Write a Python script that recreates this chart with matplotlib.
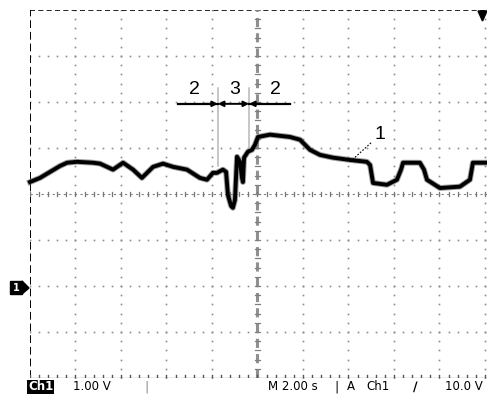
import numpy as np
import matplotlib.pyplot as plt
from matplotlib.patches import Rectangle, Polygon

# Ch1 trace: time (s) and voltage (V, ground = 0)
t = [0.00, 0.44, 0.88, 1.32, 1.63, 2.07, 2.77, 3.08, 3.65, 4.09, 4.53, 4.92,
     5.41, 5.85, 6.29, 6.90, 7.47, 7.78, 8.04, 8.22, 8.48, 8.62, 8.70, 8.84,
     8.92, 9.01, 9.10, 9.23, 9.32, 9.36, 9.41, 9.58, 9.76, 9.89, 10.02, 10.55,
     11.43, 11.87, 12.31, 12.75, 13.32, 14.07, 14.81, 14.95, 15.08, 15.69,
     16.13, 16.31, 16.40, 17.14, 17.32, 17.45, 18.02, 18.90, 19.34, 19.47, 20.09]
v = [2.26, 2.35, 2.48, 2.61, 2.68, 2.70, 2.68, 2.66, 2.53, 2.68, 2.53, 2.35,
     2.59, 2.66, 2.59, 2.53, 2.35, 2.31, 2.46, 2.46, 2.53, 2.48, 1.98, 1.74,
     1.70, 1.87, 2.81, 2.70, 2.35, 2.26, 2.79, 2.92, 2.96, 3.07, 3.24, 3.29,
     3.24, 3.18, 2.96, 2.85, 2.79, 2.74, 2.70, 2.63, 2.24, 2.20, 2.31, 2.53,
     2.68, 2.68, 2.53, 2.31, 2.13, 2.16, 2.31, 2.68, 2.68]

# interval markers: boundaries (s), labels and label centres
bounds = [8.26, 9.63]
seg_labels = ['2', '3', '2']
seg_label_t = [7.25, 9.01, 10.77]
arrow_v = 3.96

fig = plt.figure(figsize=(4.87, 3.96), dpi=100)
ax = fig.add_axes([30 / 487, 1 - 378 / 396, 457 / 487, 368 / 396])
ax.set_xlim(0, 20.09)
ax.set_ylim(-2, 6)
ax.axis('off')

# dotted graticule
for gx in np.arange(2, 20.01, 2):
    if gx == 10:
        continue
    ys = np.arange(-2, 6.01, 0.2)
    ax.plot(np.full_like(ys, gx), ys, ls='none', marker='s', ms=1.2,
            color='#8a8a8a', mew=0)
for gy in np.arange(-1, 5.01, 1):
    if gy == 2:
        continue
    xs = np.arange(0, 20.01, 0.4)
    ax.plot(xs, np.full_like(xs, gy), ls='none', marker='s', ms=1.2,
            color='#8a8a8a', mew=0)

# borders and centre lines with minor ticks
ax.plot([0, 20.09], [6, 6], color='black', lw=1.2, ls=(0, (3, 2)))
ax.plot([0, 0], [-2, 6], color='black', lw=1.4, ls=(0, (4, 2)))
ax.plot([0, 20.09], [-2, -2], color='#a0a0a0', lw=1.0)
ax.plot([10, 10], [-2, 6], color='#909090', lw=2.2, ls=(0, (3, 2)))
ax.plot([0, 20.09], [2, 2], color='#808080', lw=0.8, ls=(0, (2, 3)))
for tx in np.arange(0, 20.01, 0.4):
    ax.plot([tx, tx], [-2, -1.93], color='#555555', lw=1.0)
    ax.plot([tx, tx], [1.95, 2.05], color='#777777', lw=0.9)
for ty in np.arange(-2, 6.01, 0.2):
    ax.plot([9.87, 10.13], [ty, ty], color='#808080', lw=0.9)

# trace, with a soft halo for the noise band
ax.plot(t, v, color='#606060', lw=4.2, alpha=0.6, clip_on=False,
        solid_joinstyle='round')
ax.plot(t, v, color='black', lw=2.8, clip_on=False, solid_joinstyle='round')

# interval annotation
for b in bounds:
    ax.plot([b, b], [4.30, 2.6 if b < 9 else 3.0], color='#b8b8b8', lw=1.1)
ax.plot([6.51, bounds[0]], [arrow_v, arrow_v], color='black', lw=1.6)
ax.plot([bounds[1], 11.43], [arrow_v, arrow_v], color='black', lw=1.6)
ax.annotate('', xy=(bounds[0], arrow_v), xytext=(bounds[0] - 0.6, arrow_v),
            arrowprops=dict(arrowstyle='-|>', color='black', lw=1.4,
                            mutation_scale=8, shrinkA=0, shrinkB=0))
ax.annotate('', xy=(bounds[0], arrow_v), xytext=(bounds[1], arrow_v),
            arrowprops=dict(arrowstyle='<|-|>', color='black', lw=1.4,
                            mutation_scale=8, shrinkA=0, shrinkB=0))
ax.annotate('', xy=(bounds[1], arrow_v), xytext=(bounds[1] + 0.6, arrow_v),
            arrowprops=dict(arrowstyle='-|>', color='black', lw=1.4,
                            mutation_scale=8, shrinkA=0, shrinkB=0))
for lab, lt in zip(seg_labels, seg_label_t):
    ax.text(lt, 4.27, lab, ha='center', va='center', fontsize=14,
            family='Liberation Sans')

# trace label with dotted leader
ax.plot([14.07, 15.03], [2.70, 3.13], color='black', lw=0.8, ls=(0, (1.5, 1.5)))
ax.text(15.15, 3.30, '1', ha='left', va='center', fontsize=14,
        family='Liberation Sans')

# ground marker on the left
fig.patches.append(Rectangle((10 / 487, 1 - 294 / 396), 12 / 487, 13 / 396,
                             transform=fig.transFigure, color='black'))
fig.patches.append(Polygon([(22 / 487, 1 - 281 / 396), (29 / 487, 1 - 288 / 396),
                            (22 / 487, 1 - 294 / 396)], closed=True,
                           transform=fig.transFigure, color='black'))
fig.text(16 / 487, 1 - 288 / 396, '1', color='white', ha='center',
         va='center', fontsize=7, fontweight='bold')

# trigger position marker at the top right
fig.patches.append(Polygon([(478 / 487, 1 - 11 / 396), (487 / 487, 1 - 11 / 396),
                            (482.5 / 487, 1 - 21 / 396)], closed=True,
                           transform=fig.transFigure, color='black'))

# status line
yb = 1 - 387 / 396
fig.text(28 / 487, yb, 'Ch1', color='white', fontsize=8.5, va='center',
         ha='left', fontweight='bold',
         bbox=dict(facecolor='black', edgecolor='none', pad=0.6))
fig.text(73 / 487, yb, '1.00 V', fontsize=8.5, va='center', ha='left')
fig.text(147 / 487, yb, '|', fontsize=9, va='center', ha='center', color='#888888')
fig.text(268 / 487, yb, 'M 2.00 s', fontsize=8.5, va='center', ha='left')
fig.text(337 / 487, yb, '|', fontsize=9, va='center', ha='center')
fig.text(347 / 487, yb, 'A', fontsize=8.5, va='center', ha='left')
fig.text(366 / 487, yb, 'Ch1', fontsize=8.5, va='center', ha='left')
fig.text(415 / 487, yb, '\u2215', fontsize=9, va='center', ha='center',
         fontweight='bold')
fig.text(445 / 487, yb, '10.0 V', fontsize=8.5, va='center', ha='left')

fig.savefig('out.png', dpi=100)
